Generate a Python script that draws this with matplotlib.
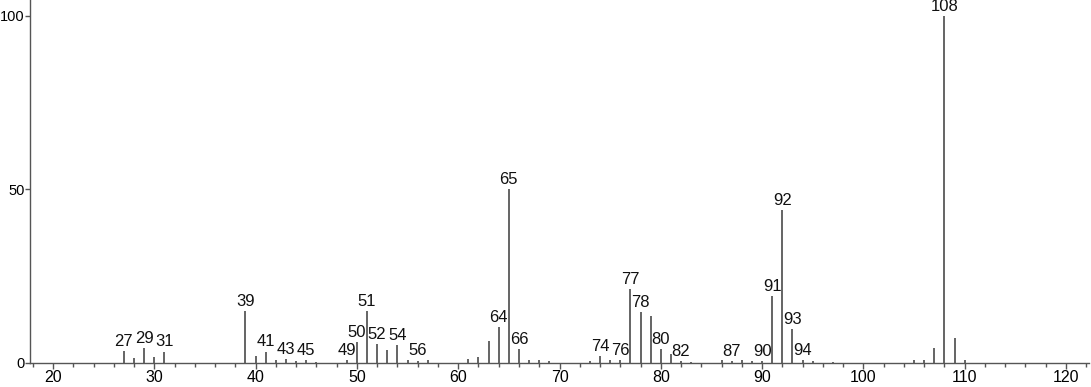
import matplotlib.pyplot as plt
from matplotlib.ticker import MultipleLocator

# m/z values and relative intensities
mz = [27, 28, 29, 30, 31, 39, 40, 41, 42, 43, 44, 45, 46, 49, 50, 51, 52, 53,
      54, 55, 56, 57, 61, 62, 63, 64, 65, 66, 67, 68, 69, 73, 74, 75, 76, 77,
      78, 79, 80, 81, 82, 83, 86, 87, 88, 89, 90, 91, 92, 93, 94, 95, 97,
      105, 106, 107, 108, 109, 110]
intensity = [3.5, 1.3, 4.3, 1.8, 3.3, 15.0, 2.0, 3.3, 0.9, 1.1, 0.5, 0.9, 0.3,
             0.9, 6.1, 15.0, 5.5, 3.7, 5.1, 0.9, 0.7, 0.8, 1.1, 1.8, 6.4, 10.3,
             50.2, 4.0, 0.8, 0.9, 0.5, 0.5, 2.0, 1.0, 0.8, 21.3, 14.6, 13.5,
             4.0, 2.6, 0.5, 0.4, 0.9, 0.5, 0.9, 0.6, 0.5, 19.4, 44.2, 9.7, 0.9,
             0.6, 0.4, 0.8, 0.9, 4.3, 100.0, 7.2, 0.9]
labelled = [27, 29, 31, 39, 41, 43, 45, 49, 50, 51, 52, 54, 56, 64, 65, 66,
            74, 76, 77, 78, 80, 82, 87, 90, 91, 92, 93, 94, 108]

plt.rcParams['font.family'] = ['Liberation Sans Narrow', 'Liberation Sans',
                               'DejaVu Sans']

fig = plt.figure(figsize=(10.91, 3.87), dpi=100)
ax = fig.add_axes([30 / 1091, 24 / 387, 1059 / 1091, 363 / 387])

ax.vlines(mz, 0, intensity, color='#3a3a3a', linewidth=1.1)

for m, h in zip(mz, intensity):
    if m in labelled:
        ax.annotate(str(m), (m, h), xytext=(0, 1.5), textcoords='offset points',
                    ha='center', va='bottom', fontsize=12, color='#111111')

ax.set_xlim(17.73, 122.27)
ax.set_ylim(0, 104.6)
ax.xaxis.set_major_locator(MultipleLocator(10))
ax.xaxis.set_minor_locator(MultipleLocator(2))
ax.set_yticks([0, 50, 100])

for side in ['top', 'right']:
    ax.spines[side].set_visible(False)
for side in ['left', 'bottom']:
    ax.spines[side].set_color('#555555')
    ax.spines[side].set_linewidth(1.0)

ax.tick_params(axis='both', which='major', width=1, color='#555555')
ax.tick_params(axis='y', which='major', length=3.5, pad=0.5, labelsize=10.5)
ax.tick_params(axis='x', which='minor', length=3, width=1, color='#555555')
ax.tick_params(axis='x', which='major', length=4, pad=1, labelsize=11.5)

fig.savefig('out.png', dpi=100)
